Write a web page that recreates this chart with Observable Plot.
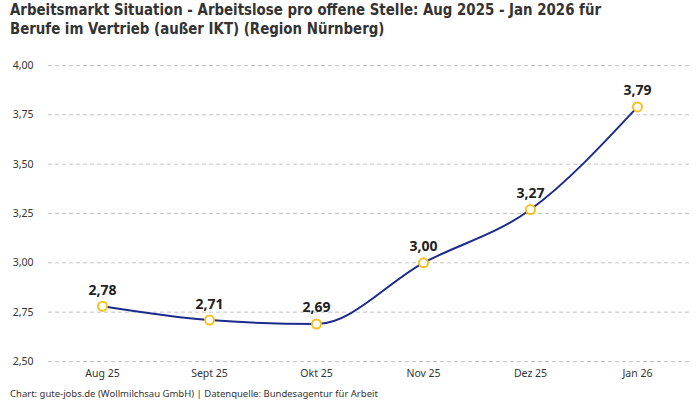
<!DOCTYPE html>
<html><head><meta charset="utf-8">
<script src="https://cdn.jsdelivr.net/npm/d3@7"></script>
<script src="https://cdn.jsdelivr.net/npm/@observablehq/plot@0.6"></script>
<style>
body{margin:0;background:#fff;width:700px;height:400px;overflow:hidden;font-family:"Noto Sans",sans-serif;}
#title{position:absolute;left:10px;top:0px;font-family:"DejaVu Sans",sans-serif;font-stretch:condensed;font-weight:bold;font-size:16px;line-height:19px;color:#333;white-space:nowrap;transform-origin:0 0;}
#chart{position:absolute;left:0;top:46px;}
#caption{position:absolute;left:10px;top:387px;font-size:9.5px;color:#333;white-space:nowrap;}
</style></head>
<body>
<div id="title"><span id="t1">Arbeitsmarkt Situation - Arbeitslose pro offene Stelle: Aug 2025 - Jan 2026 für</span><br>Berufe im Vertrieb (außer IKT) (Region Nürnberg)</div>
<div id="chart"></div>
<div id="caption">Chart: gute-jobs.de (Wollmilchsau GmbH) | Datenquelle: Bundesagentur für Arbeit</div>
<script>
const months = ["Aug 25","Sept 25","Okt 25","Nov 25","Dez 25","Jan 26"];
const values = [2.78, 2.71, 2.69, 3.00, 3.27, 3.79];
const yTicks = [2.5, 2.75, 3.0, 3.25, 3.5, 3.75, 4.0];

const data = months.map((m, i) => ({month: m, value: values[i]}));
const fmt = v => v.toFixed(2).replace(".", ",");

const plot = Plot.plot({
  width: 700,
  height: 340,
  marginTop: 19,
  marginLeft: 48,
  marginRight: 10,
  marginBottom: 25,
  style: {fontFamily: "'Noto Sans', sans-serif", fontSize: "10.5px", color: "#333", background: "transparent"},
  x: {type: "point", domain: months, padding: 0.5, label: null, tickSize: 0, tickPadding: 8},
  y: {domain: [2.5, 4.0], ticks: yTicks, tickFormat: fmt, label: null, tickSize: 0, tickPadding: 15},
  marks: [
    Plot.gridY(yTicks, {stroke: "#c4c4c4", strokeOpacity: 1, strokeDasharray: "4,3"}),
    Plot.line(data, {x: "month", y: "value", stroke: "#1c2a8c", strokeWidth: 2, curve: "monotone-x"}),
    Plot.dot(data, {x: "month", y: "value", r: 4.5, fill: "white", stroke: "#f5c21b", strokeWidth: 2}),
    Plot.text(data, {x: "month", y: "value", text: d => fmt(d.value), dy: -16, fontSize: 14, fontWeight: "bold", fill: "#222"})
  ]
});
document.getElementById("chart").appendChild(plot);
// fit title first line to reference width (~591px)
const t1 = document.getElementById("t1");
const w = t1.getBoundingClientRect().width;
if (w > 0) document.getElementById("title").style.transform = `scaleX(${591 / w})`;
</script>
</body></html>
